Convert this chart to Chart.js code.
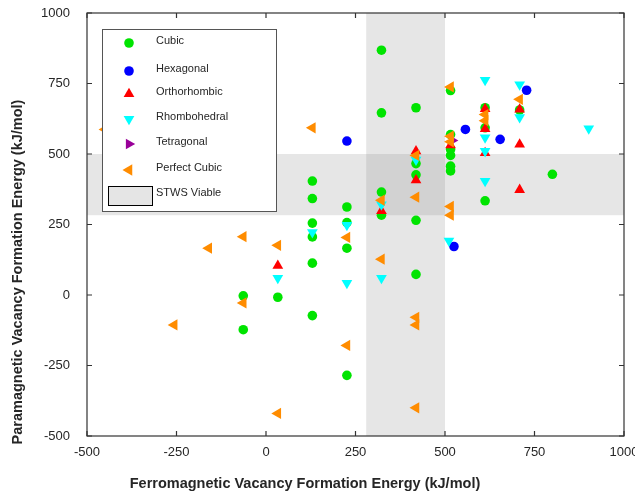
<!DOCTYPE html>
<html>
<head>
<meta charset="utf-8">
<script src="https://cdn.jsdelivr.net/npm/chart.js@4.4.1/dist/chart.umd.min.js"></script>
<style>
  body { margin: 0; background: #fff; }
  #wrap { width: 635px; height: 491px; position: relative; }
</style>
</head>
<body>
<div id="wrap"><canvas id="vacancyChart"></canvas></div>
<script>
// axis ticks (kJ/mol)
const xTicks = [-500, -250, 0, 250, 500, 750, 1000];
const yTicks = [-500, -250, 0, 250, 500, 750, 1000];

// STWS viable window (same on both axes)
const viableFM = [280, 500];
const viablePM = [283, 500];

// vacancy formation energies per structure: FM (x) / PM (y)
const cubicFM = [-63.5, -63.5, 33, 129.5, 129.5, 129.5, 129.5, 129.5, 129.5, 226, 226, 226, 226,
  322.5, 322.5, 322.5, 322.5, 419, 419, 419, 419, 419, 515.5, 515.5, 515.5, 515.5, 515.5, 515.5,
  612, 612, 612, 708.5, 800];
const cubicPM = [-3, -123, -8, 404, 342, 255, 206, 113, -73, 312, 257, 166, -285,
  868, 646, 365, 283, 664, 466, 426, 265, 73, 725, 569, 516, 495, 457, 440,
  664, 593, 334, 656, 428];

const hexFM = [226, 525, 557, 654, 728];
const hexPM = [546, 172, 587, 552, 726];

const orthoFM = [33, 322.5, 419, 419, 515.5, 612, 612, 612, 708.5, 708.5, 708.5];
const orthoPM = [104, 298, 510, 407, 531, 660, 589, 504, 658, 534, 373];

const rhomboFM = [33, 129.5, 226, 226, 322.5, 322.5, 419, 511, 612, 612, 612, 612, 708.5, 708.5, 901.5];
const rhomboPM = [60, 222, 248, 42, 321, 60, 479, 192, 762, 558, 510, 404, 746, 630, 590];

const tetraFM = [520];
const tetraPM = [548];

const perfectFM = [-449.5, -256.5, -160, -63.5, -63.5, 33, 33, 129.5, 226, 226, 322.5, 322.5,
  419, 419, 419, 419, 419, 515.5, 515.5, 515.5, 515.5, 515.5, 612, 612, 708.5];
const perfectPM = [587, -106, 166, 207, -28, 176, -420, 593, 204, -179, 336, 127,
  495, 347, -79, -106, -400, 738, 563, 543, 314, 283, 640, 618, 694];

const FONT = "'Liberation Sans', Arial, Helvetica, sans-serif";
const INK = "#262626";

function pairs(xs, ys) {
  return xs.map((v, i) => ({ x: v, y: ys[i] }));
}

// later series sit on top, like the legend order
function series(label, xs, ys, color, style, rotation, radius, order) {
  return {
    label: label,
    data: pairs(xs, ys),
    pointStyle: style,
    rotation: rotation,
    pointRadius: radius,
    pointHoverRadius: radius,
    backgroundColor: color,
    borderColor: color,
    pointBorderWidth: 0,
    showLine: false,
    order: order
  };
}

const datasets = [
  series("Cubic", cubicFM, cubicPM, "#00e400", "circle", 0, 4.8, 6),
  series("Hexagonal", hexFM, hexPM, "#0000ff", "circle", 0, 4.8, 5),
  series("Orthorhombic", orthoFM, orthoPM, "#ff0000", "triangle", 0, 6.2, 4),
  series("Rhombohedral", rhomboFM, rhomboPM, "#00ffff", "triangle", 180, 6.2, 3),
  series("Tetragonal", tetraFM, tetraPM, "#990099", "triangle", 90, 6.2, 2),
  series("Perfect Cubic", perfectFM, perfectPM, "#ff8c00", "triangle", -90, 6.5, 1)
];

// =============================
// shaded window, frame, titles, legend
// =============================
const decorations = {
  id: "decorations",
  beforeDatasetsDraw(chart) {
    const { ctx, chartArea: a, scales: { x, y } } = chart;
    ctx.save();
    ctx.fillStyle = "rgba(128,128,128,0.2)";
    const x0 = x.getPixelForValue(viableFM[0]);
    const x1 = x.getPixelForValue(viableFM[1]);
    ctx.fillRect(x0, a.top, x1 - x0, a.bottom - a.top);
    const y0 = y.getPixelForValue(viablePM[1]);
    const y1 = y.getPixelForValue(viablePM[0]);
    ctx.fillRect(a.left, y0, a.right - a.left, y1 - y0);
    ctx.restore();
  },
  afterDatasetsDraw(chart) {
    const { ctx, chartArea: a, scales: { x, y } } = chart;
    ctx.save();
    ctx.strokeStyle = "#333";
    ctx.lineWidth = 1.2;
    ctx.strokeRect(a.left, a.top, a.right - a.left, a.bottom - a.top);
    // inward tick marks on all four sides
    ctx.beginPath();
    xTicks.forEach(v => {
      const px = x.getPixelForValue(v);
      ctx.moveTo(px, a.bottom); ctx.lineTo(px, a.bottom - 5);
      ctx.moveTo(px, a.top); ctx.lineTo(px, a.top + 5);
    });
    yTicks.forEach(v => {
      const py = y.getPixelForValue(v);
      ctx.moveTo(a.left, py); ctx.lineTo(a.left + 5, py);
      ctx.moveTo(a.right, py); ctx.lineTo(a.right - 5, py);
    });
    ctx.stroke();
    ctx.restore();
  },
  afterDraw(chart) {
    const { ctx, chartArea: a } = chart;
    ctx.save();

    // axis titles
    ctx.fillStyle = INK;
    ctx.font = "bold 14.5px " + FONT;
    ctx.textAlign = "center";
    ctx.textBaseline = "middle";
    ctx.fillText("Ferromagnetic Vacancy Formation Energy (kJ/mol)", a.left + 218, 484);
    ctx.translate(18, 272);
    ctx.rotate(-Math.PI / 2);
    ctx.fillText("Paramagnetic Vacancy Formation Energy (kJ/mol)", 0, 0);
    ctx.setTransform(1, 0, 0, 1, 0, 0);

    // legend box
    const lx = a.left + 15, ly = a.top + 16, lw = 174, lh = 182;
    ctx.fillStyle = "#fff";
    ctx.fillRect(lx, ly, lw, lh);
    ctx.strokeStyle = "#555";
    ctx.lineWidth = 1;
    ctx.strokeRect(lx + 0.5, ly + 0.5, lw, lh);

    const rows = [12, 40, 63, 88, 113, 139, 164];
    ctx.font = "11px " + FONT;
    ctx.textAlign = "left";
    chart.data.datasets.forEach((ds, i) => {
      const ty = ly + rows[i];
      ctx.fillStyle = ds.backgroundColor;
      Chart.helpers.drawPoint(ctx, {
        pointStyle: ds.pointStyle,
        rotation: ds.rotation,
        radius: ds.pointRadius,
        borderWidth: 0
      }, lx + 27, ty + 2);
      ctx.fillStyle = INK;
      ctx.fillText(ds.label, lx + 54, ty);
    });
    const sy = ly + rows[6];
    ctx.fillStyle = "#e5e5e5";
    ctx.fillRect(lx + 6, sy - 7, 44, 19);
    ctx.strokeStyle = "#000";
    ctx.strokeRect(lx + 6.5, sy - 6.5, 44, 19);
    ctx.fillStyle = INK;
    ctx.fillText("STWS Viable", lx + 54, sy);
    ctx.restore();
  }
};

const tickFont = { family: FONT, size: 13 };

new Chart(document.getElementById("vacancyChart"), {
  type: "scatter",
  data: { datasets: datasets },
  options: {
    responsive: true,
    maintainAspectRatio: false,
    animation: false,
    layout: { padding: { top: 13, right: 11, left: 0, bottom: 0 } },
    plugins: { legend: { display: false }, tooltip: { enabled: false } },
    scales: {
      x: {
        type: "linear",
        min: -500,
        max: 1000,
        grid: { display: false, drawTicks: false },
        border: { display: false },
        ticks: { padding: 9, color: INK, font: tickFont, callback: v => String(v) },
        afterBuildTicks: s => { s.ticks = xTicks.map(v => ({ value: v })); },
        afterFit: s => { s.height = 55; s.paddingLeft = 0; s.paddingRight = 0; }
      },
      y: {
        type: "linear",
        min: -500,
        max: 1000,
        grid: { display: false, drawTicks: false },
        border: { display: false },
        ticks: { padding: 17, color: INK, font: tickFont, callback: v => String(v) },
        afterBuildTicks: s => { s.ticks = yTicks.map(v => ({ value: v })); },
        afterFit: s => { s.width = 87; s.paddingTop = 0; s.paddingBottom = 0; }
      }
    }
  },
  plugins: [decorations]
});
</script>
</body>
</html>
